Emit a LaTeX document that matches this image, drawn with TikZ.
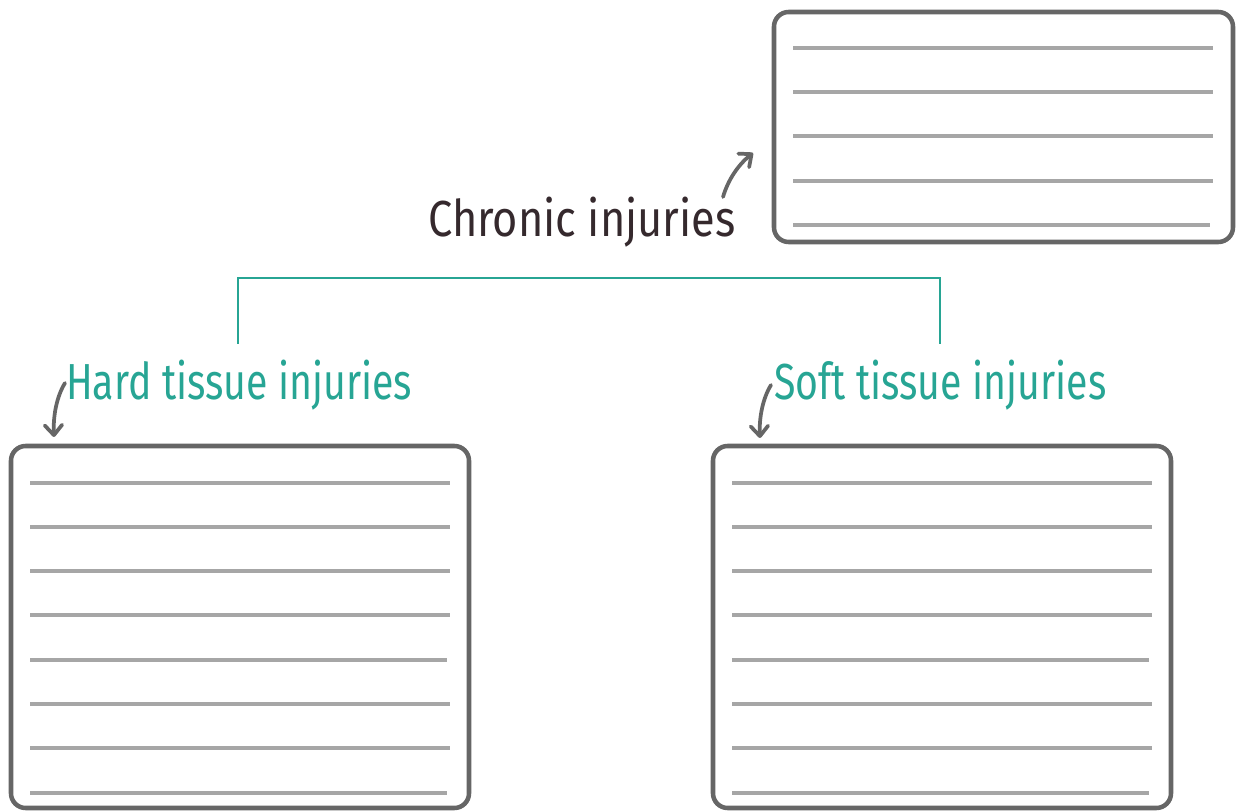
\documentclass[tikz,border=0pt]{standalone}
\usepackage{fontspec}
\usetikzlibrary{arrows.meta}
\newfontfamily\labelfont[FakeStretch=0.855]{Fira Sans}
\newfontfamily\tealfont[FakeStretch=0.775]{Fira Sans}
\definecolor{inkdark}{HTML}{35292D}
\definecolor{tealink}{HTML}{27A594}
\definecolor{frame}{HTML}{666666}
\definecolor{rule}{HTML}{A6A6A6}
\begin{document}
\begin{tikzpicture}[x=0.75pt,y=-0.75pt,
  card/.style={draw=frame,line width=3.4pt,rounded corners=11pt},
  ruling/.style={draw=rule,line width=2.4pt},
  heading/.style={font=\labelfont\fontsize{38}{40}\selectfont,inner sep=0pt,anchor=base west},
  tealheading/.style={heading,font=\tealfont\fontsize{38}{40}\selectfont,text=tealink},
  pointer/.style={draw=frame,line width=2.8pt,line cap=round,
    -{Straight Barb[length=7.5pt,width=13pt,line width=2.8pt,round]}},
  branch/.style={draw=tealink,line width=1.3pt}]
\useasboundingbox (0,0) rectangle (1240,812);

% cards
\draw[card] (774,12) rectangle (1233,242);
\draw[card] (11,446) rectangle (469,808);
\draw[card] (713,446) rectangle (1171,808);

% ruled lines inside the cards
\foreach \y in {48,92,136,181} \draw[ruling] (793,\y) -- (1213,\y);
\draw[ruling] (793,225) -- (1210,225);
\foreach \y in {483,527,571,615,704,748} {
  \draw[ruling] (30,\y) -- (450,\y);
  \draw[ruling] (732,\y) -- (1152,\y);
}
\draw[ruling] (30,660) -- (447,660);
\draw[ruling] (732,660) -- (1149,660);
\draw[ruling] (30,793) -- (447,793);
\draw[ruling] (732,793) -- (1149,793);

% headings
\node[heading,text=inkdark] (chronic) at (428,237) {Chronic injuries};
\node[tealheading] (hard) at (66,400) {Hard tissue injuries};
\node[tealheading] (soft) at (774,400) {Soft tissue injuries};

% branch connecting the two categories
\coordinate (hardtop) at (238,344);
\coordinate (softtop) at (940,344);
\draw[branch] (hardtop) -- (238,278) -| (softtop);

% pointers from headings to cards
\coordinate (ctail) at (723,197);
\coordinate (ctip) at (753,153);
\coordinate (htail) at (65,383);
\coordinate (htip) at (54,437);
\coordinate (stail) at (771,385);
\coordinate (stip) at (760,438);
\draw[pointer] (ctail) .. controls (728,180) and (738,165) .. (ctip);
\draw[pointer] (htail) .. controls (57,396) and (53,415) .. (htip);
\draw[pointer] (stail) .. controls (763,398) and (759,417) .. (stip);
\end{tikzpicture}
\end{document}
